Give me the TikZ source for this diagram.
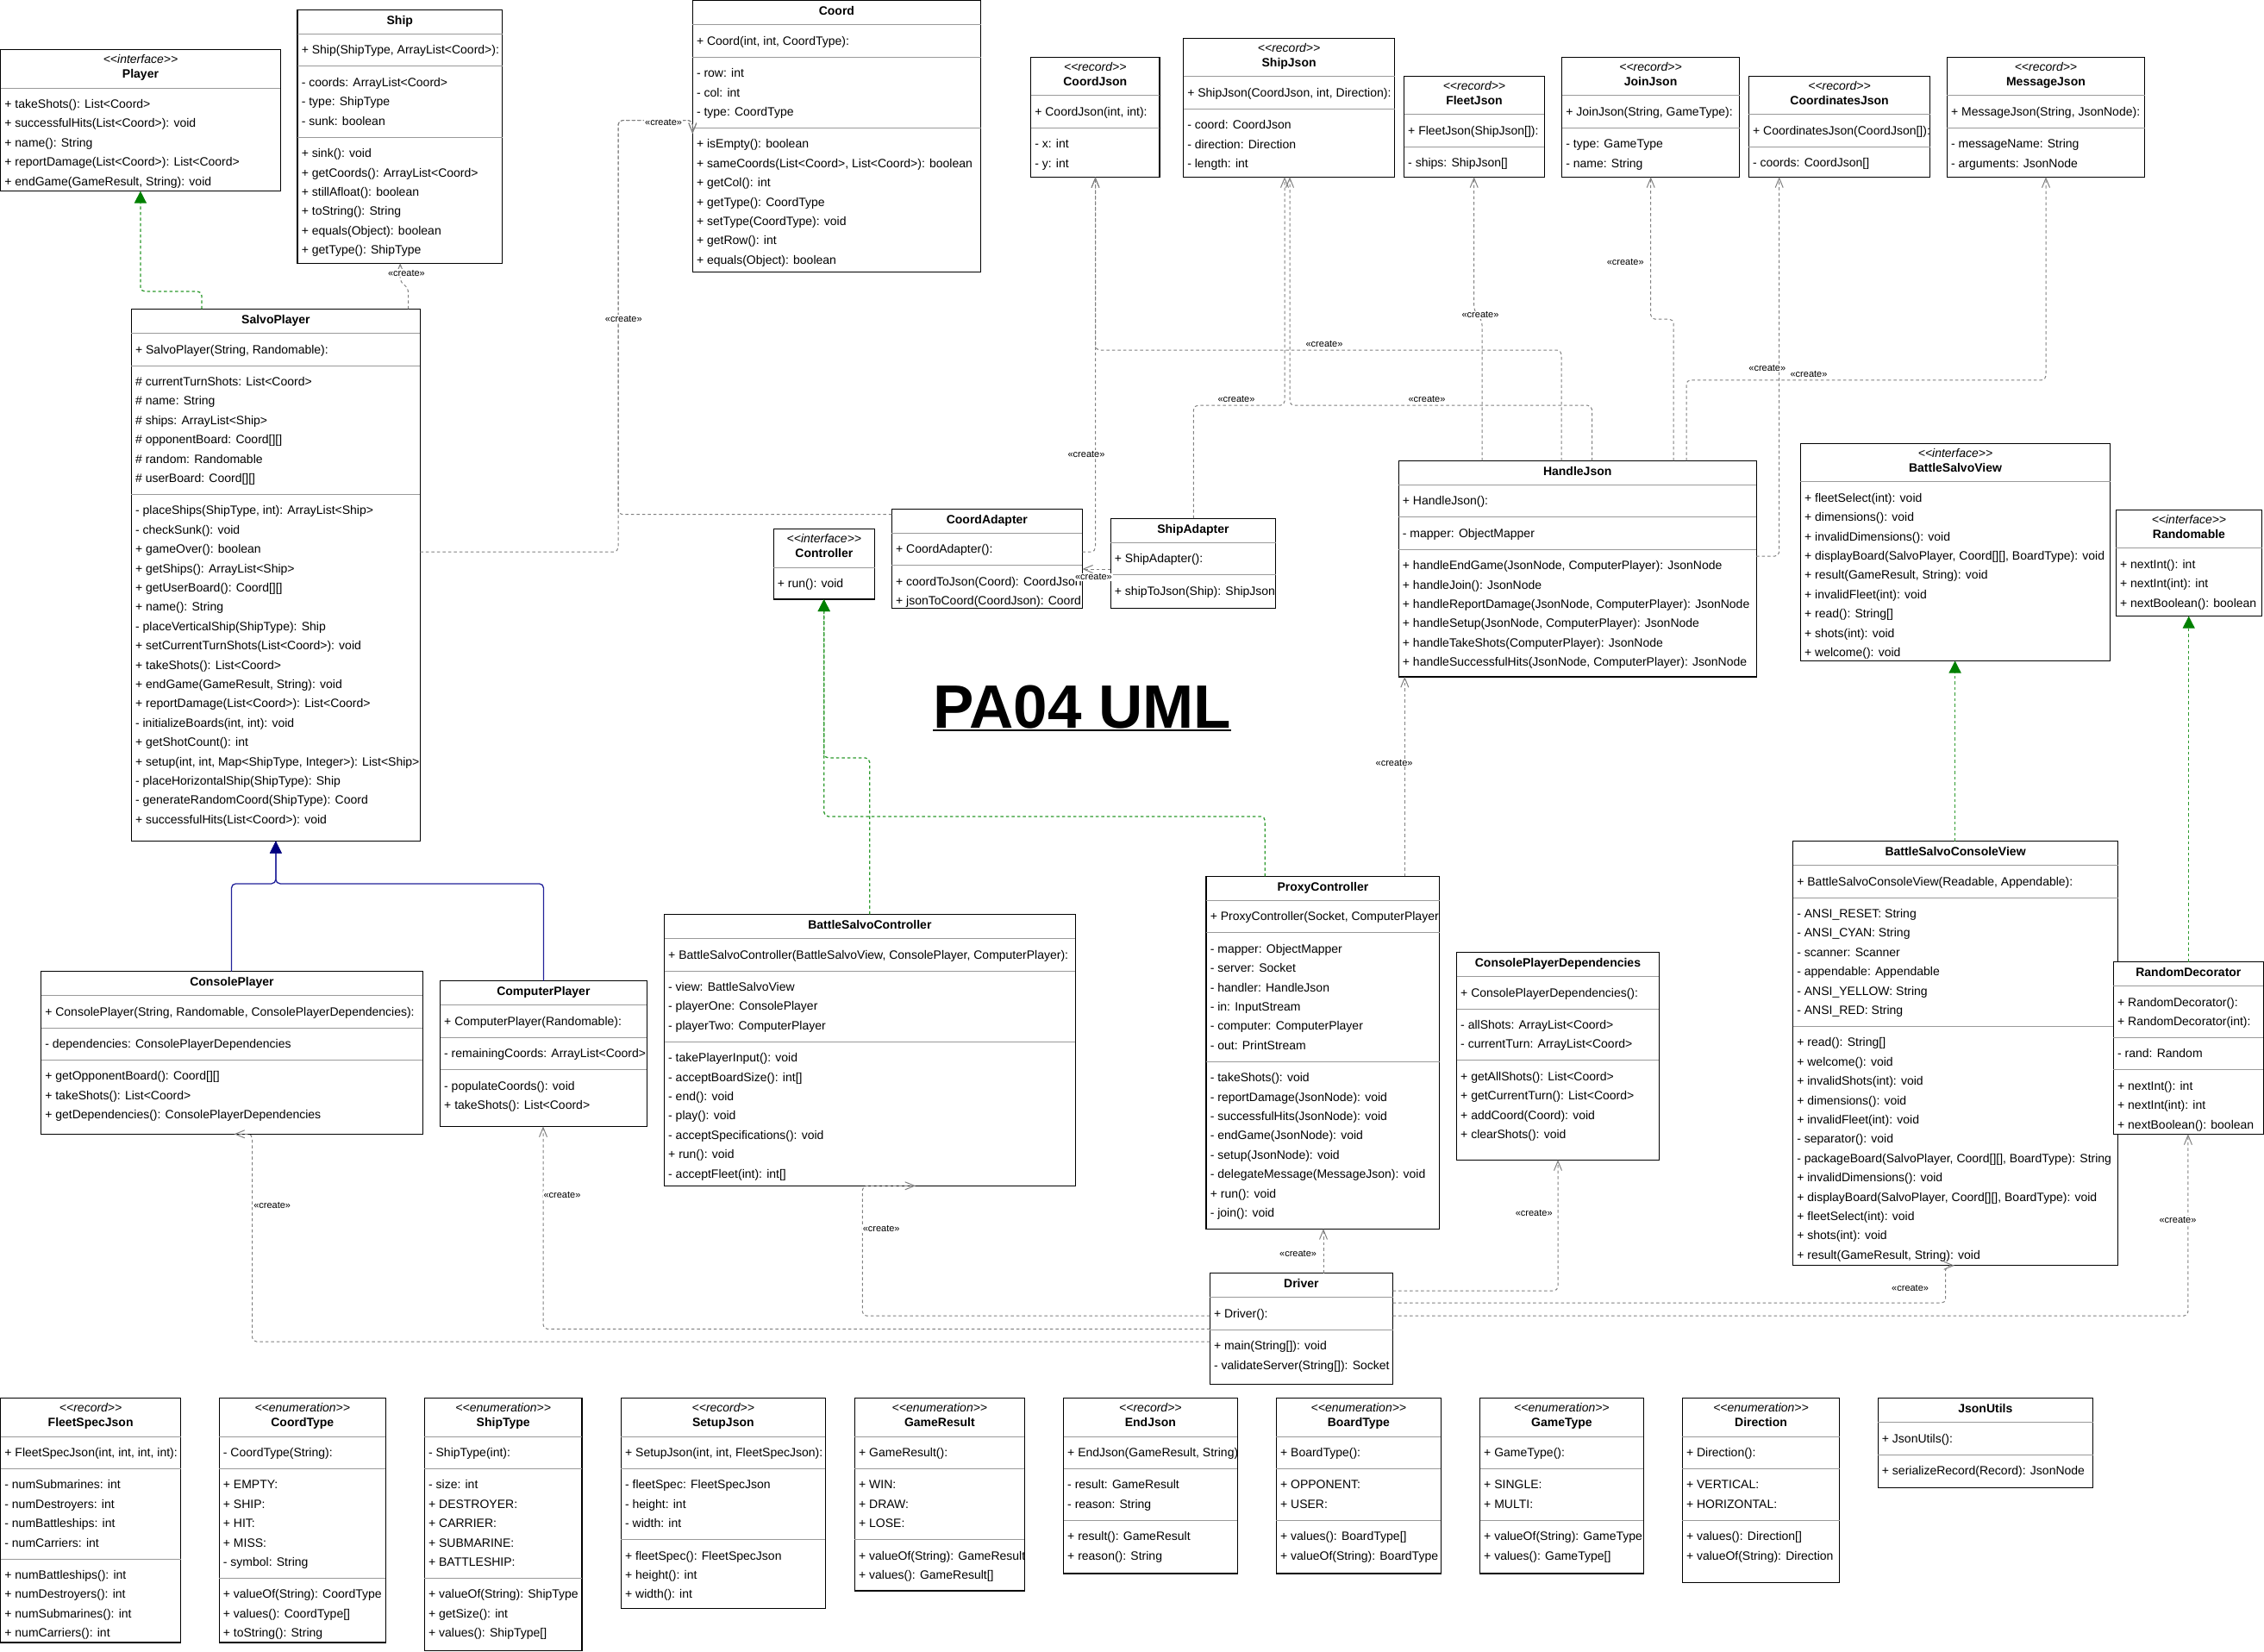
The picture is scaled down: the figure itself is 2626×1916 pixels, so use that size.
\documentclass[tikz,border=0pt]{standalone}
\usepackage{fontspec}
\setmainfont{Liberation Sans}
\usetikzlibrary{arrows.meta}
\definecolor{depgray}{HTML}{808080}
\definecolor{sepgray}{HTML}{9A9A9A}
\definecolor{realgreen}{HTML}{2E9B2E}
\definecolor{realgreenD}{HTML}{008000}
\definecolor{navyL}{HTML}{22229A}
\definecolor{navyD}{HTML}{000080}
\newcount\bxrn
\newcount\bxrow
\newcommand\stereo[1]{<\kern0pt<#1>\kern0pt>}
\newcommand\bx[5]{%
  \node[umlbox,minimum width=#4pt,minimum height=#5pt] (#1) at (#2,#3) {};%
  \gdef\bxid{#1}\gdef\bxX{#2}\gdef\bxY{#3}\gdef\bxW{#4}}
\newcommand\hdp[1]{%
  \node[nametxt] (\bxid-name) at (\bxX+\bxW/2, \bxY+16.8) {#1};%
  \pgfmathsetmacro\bxtmp{\bxY+28.2}\xdef\cy{\bxtmp}\global\bxrn=0\relax
  \draw[sepl] (\bxX,\cy) -- (\bxX+\bxW,\cy);}
\newcommand\hds[2]{%
  \node[sttxt] (\bxid-st) at (\bxX+\bxW/2, \bxY+16.3) {\stereo{#1}};%
  \node[nametxt] (\bxid-name) at (\bxX+\bxW/2, \bxY+33.3) {#2};%
  \pgfmathsetmacro\bxtmp{\bxY+44.5}\xdef\cy{\bxtmp}\global\bxrn=0\relax
  \draw[sepl] (\bxX,\cy) -- (\bxX+\bxW,\cy);}
\newcommand\sepr{%
  \pgfmathsetmacro\bxtmp{\cy+15+22.4*\the\bxrn}\xdef\cy{\bxtmp}\global\bxrn=0\relax
  \draw[sepl] (\bxX,\cy) -- (\bxX+\bxW,\cy);}
\newcommand\rw[1]{%
  \global\advance\bxrow by 1\relax
  \node[rowtxt] (row\the\bxrow) at (\bxX+4.5, \cy+23.4+22.4*\the\bxrn) {#1};%
  \global\advance\bxrn by 1\relax}
\tikzset{
  umlbox/.style={draw=black, line width=1.3pt, fill=white, anchor=north west, inner sep=0pt, outer sep=0pt},
  sepl/.style={draw=sepgray, line width=1pt},
  rowtxt/.style={font=\fontsize{14}{16}\selectfont, inner sep=0pt, anchor=base west},
  nametxt/.style={font=\fontsize{14}{16}\selectfont\bfseries, inner sep=0pt, anchor=base},
  sttxt/.style={font=\fontsize{14}{16}\selectfont\itshape, inner sep=0pt, anchor=base},
  dep/.style={draw=depgray, line width=1pt, dash pattern=on 3.5pt off 3pt, rounded corners=5pt, -{Straight Barb[length=11pt,width=9pt]}},
  real/.style={draw=realgreen, line width=1.3pt, dash pattern=on 3.5pt off 3pt, rounded corners=5pt, -{Triangle[length=14pt,width=14pt,color=realgreenD]}},
  gen/.style={draw=navyL, line width=1.3pt, rounded corners=5pt, -{Triangle[length=14pt,width=13.5pt,color=navyD]}},
  lbl/.style={font=\fontsize{11}{12}\selectfont, fill=white, inner sep=1pt},
  titletxt/.style={font=\fontsize{71}{80}\selectfont\bfseries, inner sep=0pt, anchor=base west},
}
\begin{document}
\begin{tikzpicture}[x=1pt,y=-1pt]
\fill[white] (0,0) rectangle (2626,1916);
\useasboundingbox (0,0) rectangle (2626,1916);

% ---------- top row ----------
\bx{player}{0.7}{57.6}{324.6}{164}
\hds{interface}{Player}
\rw{+ takeShots(): List<Coord>}
\rw{+ successfulHits(List<Coord>): void}
\rw{+ name(): String}
\rw{+ reportDamage(List<Coord>): List<Coord>}
\rw{+ endGame(GameResult, String): void}

\bx{ship}{345.1}{11.4}{237.4}{293.9}
\hdp{Ship}
\rw{+ Ship(ShipType, ArrayList<Coord>):}
\sepr
\rw{- coords: ArrayList<Coord>}
\rw{- type: ShipType}
\rw{- sunk: boolean}
\sepr
\rw{+ sink(): void}
\rw{+ getCoords(): ArrayList<Coord>}
\rw{+ stillAfloat(): boolean}
\rw{+ toString(): String}
\rw{+ equals(Object): boolean}
\rw{+ getType(): ShipType}

\bx{coord}{803.3}{0.7}{334.2}{314.8}
\hdp{Coord}
\rw{+ Coord(int, int, CoordType):}
\sepr
\rw{- row: int}
\rw{- col: int}
\rw{- type: CoordType}
\sepr
\rw{+ isEmpty(): boolean}
\rw{+ sameCoords(List<Coord>, List<Coord>): boolean}
\rw{+ getCol(): int}
\rw{+ getType(): CoordType}
\rw{+ setType(CoordType): void}
\rw{+ getRow(): int}
\rw{+ equals(Object): boolean}

\bx{coordjson}{1195.6}{66.5}{149.4}{138.8}
\hds{record}{CoordJson}
\rw{+ CoordJson(int, int):}
\sepr
\rw{- x: int}
\rw{- y: int}

\bx{shipjson}{1372.6}{44.5}{245}{160.8}
\hds{record}{ShipJson}
\rw{+ ShipJson(CoordJson, int, Direction):}
\sepr
\rw{- coord: CoordJson}
\rw{- direction: Direction}
\rw{- length: int}

\bx{fleetjson}{1628.5}{88.2}{162.9}{117.1}
\hds{record}{FleetJson}
\rw{+ FleetJson(ShipJson[]):}
\sepr
\rw{- ships: ShipJson[]}

\bx{joinjson}{1811.6}{66.5}{205.9}{138.8}
\hds{record}{JoinJson}
\rw{+ JoinJson(String, GameType):}
\sepr
\rw{- type: GameType}
\rw{- name: String}

\bx{coordinatesjson}{2028.4}{88.2}{210.3}{117.1}
\hds{record}{CoordinatesJson}
\rw{+ CoordinatesJson(CoordJson[]):}
\sepr
\rw{- coords: CoordJson[]}

\bx{messagejson}{2258.4}{66.5}{229.1}{138.8}
\hds{record}{MessageJson}
\rw{+ MessageJson(String, JsonNode):}
\sepr
\rw{- messageName: String}
\rw{- arguments: JsonNode}

% ---------- middle ----------
\bx{salvoplayer}{152.4}{358.4}{335}{617.1}
\hdp{SalvoPlayer}
\rw{+ SalvoPlayer(String, Randomable):}
\sepr
\rw{\# currentTurnShots: List<Coord>}
\rw{\# name: String}
\rw{\# ships: ArrayList<Ship>}
\rw{\# opponentBoard: Coord[][]}
\rw{\# random: Randomable}
\rw{\# userBoard: Coord[][]}
\sepr
\rw{- placeShips(ShipType, int): ArrayList<Ship>}
\rw{- checkSunk(): void}
\rw{+ gameOver(): boolean}
\rw{+ getShips(): ArrayList<Ship>}
\rw{+ getUserBoard(): Coord[][]}
\rw{+ name(): String}
\rw{- placeVerticalShip(ShipType): Ship}
\rw{+ setCurrentTurnShots(List<Coord>): void}
\rw{+ takeShots(): List<Coord>}
\rw{+ endGame(GameResult, String): void}
\rw{+ reportDamage(List<Coord>): List<Coord>}
\rw{- initializeBoards(int, int): void}
\rw{+ getShotCount(): int}
\rw{+ setup(int, int, Map<ShipType, Integer>): List<Ship>}
\rw{- placeHorizontalShip(ShipType): Ship}
\rw{- generateRandomCoord(ShipType): Coord}
\rw{+ successfulHits(List<Coord>): void}

\bx{controller}{897.2}{613.5}{117.4}{81.6}
\hds{interface}{Controller}
\rw{+ run(): void}

\bx{coordadapter}{1034.4}{590.2}{220.9}{115.1}
\hdp{CoordAdapter}
\rw{+ CoordAdapter():}
\sepr
\rw{+ coordToJson(Coord): CoordJson}
\rw{+ jsonToCoord(CoordJson): Coord}

\bx{shipadapter}{1288.2}{601.2}{191.3}{104.1}
\hdp{ShipAdapter}
\rw{+ ShipAdapter():}
\sepr
\rw{+ shipToJson(Ship): ShipJson}

\bx{handlejson}{1622.2}{534.3}{415}{250.6}
\hdp{HandleJson}
\rw{+ HandleJson():}
\sepr
\rw{- mapper: ObjectMapper}
\sepr
\rw{+ handleEndGame(JsonNode, ComputerPlayer): JsonNode}
\rw{+ handleJoin(): JsonNode}
\rw{+ handleReportDamage(JsonNode, ComputerPlayer): JsonNode}
\rw{+ handleSetup(JsonNode, ComputerPlayer): JsonNode}
\rw{+ handleTakeShots(ComputerPlayer): JsonNode}
\rw{+ handleSuccessfulHits(JsonNode, ComputerPlayer): JsonNode}

\bx{battlesalvoview}{2088.4}{514.3}{359.2}{252.2}
\hds{interface}{BattleSalvoView}
\rw{+ fleetSelect(int): void}
\rw{+ dimensions(): void}
\rw{+ invalidDimensions(): void}
\rw{+ displayBoard(SalvoPlayer, Coord[][], BoardType): void}
\rw{+ result(GameResult, String): void}
\rw{+ invalidFleet(int): void}
\rw{+ read(): String[]}
\rw{+ shots(int): void}
\rw{+ welcome(): void}

\bx{randomable}{2454.4}{591.4}{169.1}{123.3}
\hds{interface}{Randomable}
\rw{+ nextInt(): int}
\rw{+ nextInt(int): int}
\rw{+ nextBoolean(): boolean}

\bx{consoleplayer}{47.6}{1126.5}{442.7}{188.8}
\hdp{ConsolePlayer}
\rw{+ ConsolePlayer(String, Randomable, ConsolePlayerDependencies):}
\sepr
\rw{- dependencies: ConsolePlayerDependencies}
\sepr
\rw{+ getOpponentBoard(): Coord[][]}
\rw{+ takeShots(): List<Coord>}
\rw{+ getDependencies(): ConsolePlayerDependencies}

\bx{computerplayer}{510.5}{1137.6}{239.8}{168.8}
\hdp{ComputerPlayer}
\rw{+ ComputerPlayer(Randomable):}
\sepr
\rw{- remainingCoords: ArrayList<Coord>}
\sepr
\rw{- populateCoords(): void}
\rw{+ takeShots(): List<Coord>}

\bx{bsc}{770.5}{1060.4}{476.8}{314.9}
\hdp{BattleSalvoController}
\rw{+ BattleSalvoController(BattleSalvoView, ConsolePlayer, ComputerPlayer):}
\sepr
\rw{- view: BattleSalvoView}
\rw{- playerOne: ConsolePlayer}
\rw{- playerTwo: ComputerPlayer}
\sepr
\rw{- takePlayerInput(): void}
\rw{- acceptBoardSize(): int[]}
\rw{- end(): void}
\rw{- play(): void}
\rw{- acceptSpecifications(): void}
\rw{+ run(): void}
\rw{- acceptFleet(int): int[]}

\bx{proxy}{1399.1}{1016.3}{270.6}{408.9}
\hdp{ProxyController}
\rw{+ ProxyController(Socket, ComputerPlayer}
\sepr
\rw{- mapper: ObjectMapper}
\rw{- server: Socket}
\rw{- handler: HandleJson}
\rw{- in: InputStream}
\rw{- computer: ComputerPlayer}
\rw{- out: PrintStream}
\sepr
\rw{- takeShots(): void}
\rw{- reportDamage(JsonNode): void}
\rw{- successfulHits(JsonNode): void}
\rw{- endGame(JsonNode): void}
\rw{- setup(JsonNode): void}
\rw{- delegateMessage(MessageJson): void}
\rw{+ run(): void}
\rw{- join(): void}

\bx{cpd}{1689.5}{1104.5}{234.9}{240.8}
\hdp{ConsolePlayerDependencies}
\rw{+ ConsolePlayerDependencies():}
\sepr
\rw{- allShots: ArrayList<Coord>}
\rw{- currentTurn: ArrayList<Coord>}
\sepr
\rw{+ getAllShots(): List<Coord>}
\rw{+ getCurrentTurn(): List<Coord>}
\rw{+ addCoord(Coord): void}
\rw{+ clearShots(): void}

\bx{bscv}{2079.6}{975.5}{376.9}{492.3}
\hdp{BattleSalvoConsoleView}
\rw{+ BattleSalvoConsoleView(Readable, Appendable):}
\sepr
\rw{- ANSI\_RESET: String}
\rw{- ANSI\_CYAN: String}
\rw{- scanner: Scanner}
\rw{- appendable: Appendable}
\rw{- ANSI\_YELLOW: String}
\rw{- ANSI\_RED: String}
\sepr
\rw{+ read(): String[]}
\rw{+ welcome(): void}
\rw{+ invalidShots(int): void}
\rw{+ dimensions(): void}
\rw{+ invalidFleet(int): void}
\rw{- separator(): void}
\rw{- packageBoard(SalvoPlayer, Coord[][], BoardType): String}
\rw{+ invalidDimensions(): void}
\rw{+ displayBoard(SalvoPlayer, Coord[][], BoardType): void}
\rw{+ fleetSelect(int): void}
\rw{+ shots(int): void}
\rw{+ result(GameResult, String): void}

\bx{randomdecorator}{2451.4}{1115.5}{173.9}{199.8}
\hdp{RandomDecorator}
\rw{+ RandomDecorator():}
\rw{+ RandomDecorator(int):}
\sepr
\rw{- rand: Random}
\sepr
\rw{+ nextInt(): int}
\rw{+ nextInt(int): int}
\rw{+ nextBoolean(): boolean}

\bx{driver}{1403.3}{1476.7}{212.2}{128.6}
\hdp{Driver}
\rw{+ Driver():}
\sepr
\rw{+ main(String[]): void}
\rw{- validateServer(String[]): Socket}

% ---------- bottom row ----------
\bx{fleetspecjson}{0.7}{1621.5}{208.9}{283.5}
\hds{record}{FleetSpecJson}
\rw{+ FleetSpecJson(int, int, int, int):}
\sepr
\rw{- numSubmarines: int}
\rw{- numDestroyers: int}
\rw{- numBattleships: int}
\rw{- numCarriers: int}
\sepr
\rw{+ numBattleships(): int}
\rw{+ numDestroyers(): int}
\rw{+ numSubmarines(): int}
\rw{+ numCarriers(): int}

\bx{coordtype}{254.2}{1621.5}{193.2}{283.5}
\hds{enumeration}{CoordType}
\rw{- CoordType(String):}
\sepr
\rw{+ EMPTY:}
\rw{+ SHIP:}
\rw{+ HIT:}
\rw{+ MISS:}
\rw{- symbol: String}
\sepr
\rw{+ valueOf(String): CoordType}
\rw{+ values(): CoordType[]}
\rw{+ toString(): String}

\bx{shiptype}{492.4}{1621.5}{182.6}{293.3}
\hds{enumeration}{ShipType}
\rw{- ShipType(int):}
\sepr
\rw{- size: int}
\rw{+ DESTROYER:}
\rw{+ CARRIER:}
\rw{+ SUBMARINE:}
\rw{+ BATTLESHIP:}
\sepr
\rw{+ valueOf(String): ShipType}
\rw{+ getSize(): int}
\rw{+ values(): ShipType[]}

\bx{setupjson}{720.4}{1621.5}{236.9}{243.8}
\hds{record}{SetupJson}
\rw{+ SetupJson(int, int, FleetSpecJson):}
\sepr
\rw{- fleetSpec: FleetSpecJson}
\rw{- height: int}
\rw{- width: int}
\sepr
\rw{+ fleetSpec(): FleetSpecJson}
\rw{+ height(): int}
\rw{+ width(): int}

\bx{gameresult}{991.4}{1621.5}{197}{223.5}
\hds{enumeration}{GameResult}
\rw{+ GameResult():}
\sepr
\rw{+ WIN:}
\rw{+ DRAW:}
\rw{+ LOSE:}
\sepr
\rw{+ valueOf(String): GameResult}
\rw{+ values(): GameResult[]}

\bx{endjson}{1233.5}{1621.5}{201.8}{203.6}
\hds{record}{EndJson}
\rw{+ EndJson(GameResult, String)}
\sepr
\rw{- result: GameResult}
\rw{- reason: String}
\sepr
\rw{+ result(): GameResult}
\rw{+ reason(): String}

\bx{boardtype}{1480.4}{1621.5}{191}{203.6}
\hds{enumeration}{BoardType}
\rw{+ BoardType():}
\sepr
\rw{+ OPPONENT:}
\rw{+ USER:}
\sepr
\rw{+ values(): BoardType[]}
\rw{+ valueOf(String): BoardType}

\bx{gametype}{1716.5}{1621.5}{189.8}{203.6}
\hds{enumeration}{GameType}
\rw{+ GameType():}
\sepr
\rw{+ SINGLE:}
\rw{+ MULTI:}
\sepr
\rw{+ valueOf(String): GameType}
\rw{+ values(): GameType[]}

\bx{direction}{1951.3}{1621.5}{182.5}{213.8}
\hds{enumeration}{Direction}
\rw{+ Direction():}
\sepr
\rw{+ VERTICAL:}
\rw{+ HORIZONTAL:}
\sepr
\rw{+ values(): Direction[]}
\rw{+ valueOf(String): Direction}

\bx{jsonutils}{2178.2}{1621.5}{249.3}{103.9}
\hdp{JsonUtils}
\rw{+ JsonUtils():}
\sepr
\rw{+ serializeRecord(Record): JsonNode}

% ---------- title ----------
\node[titletxt] (title) at (1082,844) {PA04 UML};
\draw[line width=2pt] ([yshift=-2.5pt]title.base west) -- ([yshift=-2.5pt]title.base east);

% ---------- realizations ----------
\draw[real] (salvoplayer.north -| 234,0) -- (234,338) -- (162.9,338) -- (player.south -| 162.9,0);
\draw[real] (bsc.north -| 1008.7,0) -- (1008.7,879) -- (955.7,879) -- (controller.south -| 955.7,0);
\draw[real] (proxy.north -| 1467.3,0) -- (1467.3,946.9) -- (955.7,946.9) -- (controller.south -| 955.7,0);
\draw[real] (bscv.north -| 2267.6,0) -- (battlesalvoview.south -| 2267.6,0);
\draw[real] (randomdecorator.north -| 2538.7,0) -- (randomable.south -| 2538.7,0);

% ---------- generalizations ----------
\draw[gen] (consoleplayer.north -| 268.5,0) -- (268.5,1024.9) -- (319.9,1024.9) -- (salvoplayer.south -| 319.9,0);
\draw[gen] (computerplayer.north -| 630.5,0) -- (630.5,1024.9) -- (319.9,1024.9) -- (salvoplayer.south -| 319.9,0);

% ---------- dependencies ----------
\draw[dep] (salvoplayer.north -| 473.5,0) -- (473.5,334) -- (464.2,327) -- (ship.south -| 464.2,0);
\draw[dep] (salvoplayer.east |- 0,640) -- (717,640) -- (717,139.6) -- (803.3,139.6) -- (coord.west |- 0,155);
\draw[dep] (coordadapter.west |- 0,596.7) -- (717,596.7) -- (717,139.6) -- (803.3,139.6) -- (coord.west |- 0,155);
\draw[dep] (shipadapter.north -| 1384.4,0) -- (1384.4,470.2) -- (1490,470.2) -- (shipjson.south -| 1490,0);
\draw[dep] (handlejson.north -| 1846.5,0) -- (1846.5,470.2) -- (1496,470.2) -- (shipjson.south -| 1496,0);
\draw[dep] (handlejson.north -| 1811,0) -- (1811,406) -- (1270.5,406) -- (coordjson.south -| 1270.5,0);
\draw[dep] (coordadapter.east |- 0,640) -- (1270.5,640) -- (1270.5,406) -- (coordjson.south -| 1270.5,0);
\draw[dep] (shipadapter.west |- 0,660) -- (coordadapter.east |- 0,660);
\draw[dep] (handlejson.north -| 1719,0) -- (1719,372) -- (1709.7,360) -- (fleetjson.south -| 1709.7,0);
\draw[dep] (handlejson.north -| 1941.2,0) -- (1941.2,370.2) -- (1914.7,370.2) -- (joinjson.south -| 1914.7,0);
\draw[dep] (handlejson.north -| 1956,0) -- (1956,440.8) -- (2373,440.8) -- (messagejson.south -| 2373,0);
\draw[dep] (handlejson.east |- 0,645) -- (2063.7,645) -- (coordinatesjson.south -| 2063.7,0);
\draw[dep] (proxy.north -| 1629.3,0) -- (handlejson.south -| 1629.3,0);
\draw[dep] (driver.north -| 1535,0) -- (proxy.south -| 1535,0);
\draw[dep] (driver.east |- 0,1497) -- (1807,1497) -- (cpd.south -| 1807,0);
\draw[dep] (driver.east |- 0,1511.2) -- (2256.7,1511.2) -- (2256.7,1467.8) -- (bscv.south -| 2267,0);
\draw[dep] (driver.east |- 0,1526.2) -- (2537.9,1526.2) -- (randomdecorator.south -| 2537.9,0);
\draw[dep] (driver.west |- 0,1526.2) -- (1000.3,1526.2) -- (1000.3,1375.3) -- (bsc.south -| 1062,0);
\draw[dep] (driver.west |- 0,1541.4) -- (630,1541.4) -- (computerplayer.south -| 630,0);
\draw[dep] (driver.west |- 0,1556) -- (292.5,1556) -- (292.5,1315.3) -- (consoleplayer.south -| 271.5,0);

% ---------- labels ----------
\node[lbl] (c1) at (471.4,316.7) {«create»};
\node[lbl] (c2) at (723.3,370) {«create»};
\node[lbl] (c3) at (769.6,142.4) {«create»};
\node[lbl] (c4) at (1260,526.5) {«create»};
\node[lbl] (c5) at (1536,399.2) {«create»};
\node[lbl] (c6) at (1434,463.3) {«create»};
\node[lbl] (c7) at (1655,463.3) {«create»};
\node[lbl] (c8) at (1717,365.3) {«create»};
\node[lbl] (c9) at (1885.2,304) {«create»};
\node[lbl] (c10) at (2098,433.5) {«create»};
\node[lbl] (c11) at (2049.8,426.5) {«create»};
\node[lbl] (c12) at (1268.4,669.4) {«create»};
\node[lbl] (c13) at (1617.1,884.5) {«create»};
\node[lbl] (c14) at (1505.6,1453.6) {«create»};
\node[lbl] (c15) at (1779.2,1406.6) {«create»};
\node[lbl] (c16) at (2215.6,1493.8) {«create»};
\node[lbl] (c17) at (2526,1415) {«create»};
\node[lbl] (c18) at (1022.2,1425.2) {«create»};
\node[lbl] (c19) at (652,1385.5) {«create»};
\node[lbl] (c20) at (315.7,1398.4) {«create»};
\end{tikzpicture}
\end{document}
